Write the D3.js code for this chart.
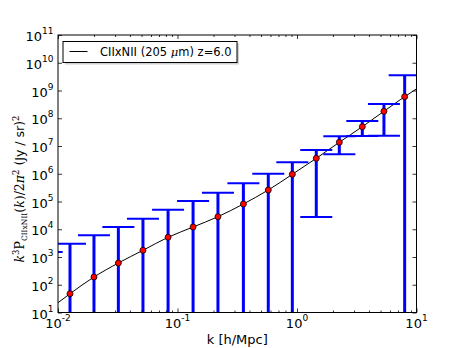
<!DOCTYPE html>
<html><head><meta charset="utf-8">
<script src="https://cdn.jsdelivr.net/npm/d3@7"></script>
<style>body{margin:0;background:#fff}svg{display:block}</style>
</head><body><svg id="c" width="463" height="348"></svg>
<script>
// ---- data ----
const kVals  = [0.00804, 0.0126, 0.0200, 0.0320, 0.0514, 0.0834, 0.135, 0.218, 0.356, 0.575, 0.914, 1.45, 2.26, 3.52, 5.34, 7.96];
const pVals  = [11.4, 47.5, 190, 608, 1743, 5130, 12050, 28300, 81300, 259000, 955000, 3.6e6, 1.36e7, 4.97e7, 1.78e8, 5.98e8];
const errHi  = [1510, 3010, 6050, 12050, 24000, 50700, 104000, 207000, 453000, 1.007e6, 2.58e6, 7.18e6, 2.24e7, 7.98e7, 3.27e8, 3.53e9];
const errLo  = [1, 1, 1, 1, 1, 1, 1, 1, 1, 1, 1, 27600, 5.0e6, 2.3e7, 2.34e7, 1];
const modelK = [0.007, 0.01].concat(kVals.slice(1), [10, 12]);
const modelP = [7.5, 22.5].concat(pVals.slice(1), [1.15e9, 2.0e9]);
const xTickExp = [-2, -1, 0, 1];
const yTickExp = [1, 2, 3, 4, 5, 6, 7, 8, 9, 10, 11];
const legendLabel = "CIIxNII (205 ";
const xLabel = "k [h/Mpc]";

// ---- layout ----
const L = 58, R = 416.5, T = 35, B = 312.5;
const svg = d3.select("#c");
const x = d3.scaleLog().domain([0.01, 10]).range([L, R]);
const y = d3.scaleLog().domain([10, 1e11]).range([B, T]);
const FONT = "DejaVu Sans, sans-serif";

svg.append("defs").append("clipPath").attr("id", "clip")
  .append("rect").attr("x", L).attr("y", T).attr("width", R - L).attr("height", B - T);

const plot = svg.append("g").attr("clip-path", "url(#clip)");

// model line
const line = d3.line().x((d, i) => x(modelK[i])).y((d, i) => y(modelP[i])).curve(d3.curveMonotoneX);
plot.append("path").datum(modelK).attr("d", line).attr("fill", "none").attr("stroke", "#000").attr("stroke-width", 1);

// error bars
const yBot = v => Math.min(y(Math.max(v, 1e-3)), B + 20);
const cap = 16;
plot.selectAll("line.ev").data(kVals).join("line").attr("class", "ev")
  .attr("x1", d => x(d)).attr("x2", d => x(d))
  .attr("y1", (d, i) => y(errHi[i])).attr("y2", (d, i) => yBot(errLo[i]))
  .attr("stroke", "#0000ff").attr("stroke-width", 3);
plot.selectAll("line.cu").data(kVals).join("line").attr("class", "cu")
  .attr("x1", d => x(d) - cap).attr("x2", d => x(d) + cap)
  .attr("y1", (d, i) => y(errHi[i])).attr("y2", (d, i) => y(errHi[i]))
  .attr("stroke", "#0000ff").attr("stroke-width", 2);
plot.selectAll("line.cl").data(kVals).join("line").attr("class", "cl")
  .attr("x1", d => x(d) - cap).attr("x2", d => x(d) + cap)
  .attr("y1", (d, i) => yBot(errLo[i])).attr("y2", (d, i) => yBot(errLo[i]))
  .attr("stroke", "#0000ff").attr("stroke-width", 2);

// markers
plot.selectAll("circle").data(kVals).join("circle")
  .attr("cx", d => x(d)).attr("cy", (d, i) => y(pVals[i])).attr("r", 3)
  .attr("fill", "#ff0000").attr("stroke", "#000").attr("stroke-width", 0.8);

// ---- axes ticks (inward) ----
const xMajor = xTickExp.map(e => Math.pow(10, e));
const yMajor = yTickExp.map(e => Math.pow(10, e));
const xMinor = x.ticks().filter(t => !xMajor.some(m => Math.abs(m - t) / t < 1e-6));
const yMinor = y.ticks().filter(t => !yMajor.some(m => Math.abs(m - t) / t < 1e-6));

function addAxis(gen, tx, ty) {
  const g = svg.append("g").attr("transform", `translate(${tx},${ty})`).call(gen);
  g.select(".domain").remove();
  g.selectAll("line").attr("stroke", "#000").attr("stroke-width", 0.8);
  g.selectAll("text").remove();
}
[[xMajor, 4], [xMinor, 2]].forEach(([vals, s]) => {
  addAxis(d3.axisBottom(x).tickValues(vals).tickSize(-s).tickFormat(""), 0, B);
  addAxis(d3.axisTop(x).tickValues(vals).tickSize(-s).tickFormat(""), 0, T);
});
[[yMajor, 4], [yMinor, 2]].forEach(([vals, s]) => {
  addAxis(d3.axisLeft(y).tickValues(vals).tickSize(-s).tickFormat(""), L, 0);
  addAxis(d3.axisRight(y).tickValues(vals).tickSize(-s).tickFormat(""), R, 0);
});

// frame
svg.append("rect").attr("x", L).attr("y", T).attr("width", R - L).attr("height", B - T)
  .attr("fill", "none").attr("stroke", "#000").attr("stroke-width", 1);

// tick labels
const xl = svg.append("g").attr("font-family", FONT).attr("fill", "#000");
xTickExp.forEach(e => {
  const t = xl.append("text").attr("x", x(Math.pow(10, e))).attr("y", 327.5)
    .attr("text-anchor", "middle").attr("font-size", 13);
  t.append("tspan").text("10");
  t.append("tspan").attr("dy", -7).attr("font-size", 9).text(e < 0 ? "-" + (-e) : String(e));
});
yTickExp.forEach(e => {
  const t = xl.append("text").attr("x", 53.5).attr("y", y(Math.pow(10, e)) + 6)
    .attr("text-anchor", "end").attr("font-size", 13);
  t.append("tspan").text("10");
  t.append("tspan").attr("dy", -7).attr("font-size", 9).text(String(e));
});

// x label
svg.append("text").attr("x", (L + R) / 2).attr("y", 343.5).attr("text-anchor", "middle")
  .attr("font-family", FONT).attr("font-size", 13).text(xLabel);

// y label
const yl = svg.append("text").attr("transform", "translate(24,189) rotate(-90)")
  .attr("text-anchor", "middle").attr("font-size", 12.5).attr("font-family", "DejaVu Serif, serif");
yl.append("tspan").attr("font-style", "italic").text("k");
yl.append("tspan").attr("dy", -5).attr("font-size", 8.5).text("3");
yl.append("tspan").attr("dy", 5).text("P");
yl.append("tspan").attr("dy", 3).attr("font-size", 7.5).text("CIIxNII");
yl.append("tspan").attr("dy", -3).text("(");
yl.append("tspan").attr("font-style", "italic").text("k");
yl.append("tspan").text(")/2");
yl.append("tspan").attr("font-style", "italic").text("π");
yl.append("tspan").attr("dy", -5).attr("font-size", 8.5).text("2");
yl.append("tspan").attr("dy", 5).attr("font-family", FONT).text(" (Jy / sr)");
yl.append("tspan").attr("dy", -5).attr("font-size", 8.5).text("2");

// legend
const lg = svg.append("g");
lg.append("rect").attr("x", 65).attr("y", 43.5).attr("width", 174).attr("height", 21).attr("fill", "#b0b0b0").attr("opacity", 0.6);
lg.append("rect").attr("x", 63).attr("y", 41.5).attr("width", 174).attr("height", 21)
  .attr("fill", "#fff").attr("stroke", "#000").attr("stroke-width", 1);
lg.append("line").attr("x1", 69.5).attr("x2", 87.5).attr("y1", 51.5).attr("y2", 51.5).attr("stroke", "#000").attr("stroke-width", 1);
const lt = lg.append("text").attr("x", 100).attr("y", 56).attr("font-family", FONT).attr("font-size", 11.5);
lt.append("tspan").text(legendLabel);
lt.append("tspan").attr("font-style", "italic").attr("font-family", "DejaVu Serif, serif").text("μ");
lt.append("tspan").text("m) z=6.0");
</script></body></html>
